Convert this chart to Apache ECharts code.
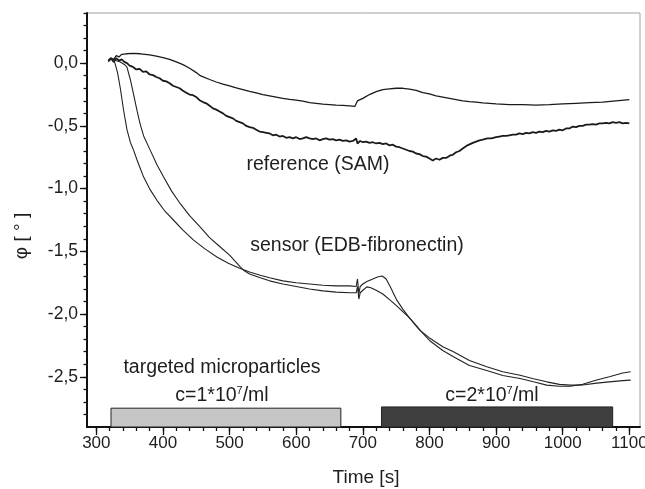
<!DOCTYPE html>
<html>
<head>
<meta charset="utf-8">
<script src="https://cdn.jsdelivr.net/npm/echarts@6/dist/echarts.min.js"></script>
<style>
html,body{margin:0;padding:0;background:#fff;}
#chart{width:645px;height:489px;}
</style>
</head>
<body>
<div id="chart"></div>
<script>
// ---- data (time [s], phase [deg]) ----
var refUpper = [[318,0.02],[322,0.04],[326,0.03],[330,0.06],[334,0.05],[338,0.07],[345,0.075],[355,0.078],[366,0.075],[380,0.066],[390,0.056],[400,0.045],[410,0.03],[420,0.01],[430,-0.012],[440,-0.04],[450,-0.075],[456,-0.1],[470,-0.13],[480,-0.15],[490,-0.167],[500,-0.18],[510,-0.196],[520,-0.21],[530,-0.224],[540,-0.236],[550,-0.25],[560,-0.26],[570,-0.27],[580,-0.28],[590,-0.288],[600,-0.295],[610,-0.302],[620,-0.314],[630,-0.32],[640,-0.326],[650,-0.33],[660,-0.334],[670,-0.336],[680,-0.34],[688,-0.345],[690,-0.33],[692,-0.3],[694,-0.31],[696,-0.29],[700,-0.28],[710,-0.25],[720,-0.226],[730,-0.21],[740,-0.204],[750,-0.2],[760,-0.2],[770,-0.206],[780,-0.216],[790,-0.234],[800,-0.245],[810,-0.26],[820,-0.27],[830,-0.28],[840,-0.29],[850,-0.3],[860,-0.306],[870,-0.31],[880,-0.316],[890,-0.32],[900,-0.325],[920,-0.33],[940,-0.331],[960,-0.334],[980,-0.33],[1000,-0.325],[1020,-0.32],[1040,-0.315],[1060,-0.31],[1080,-0.3],[1100,-0.29]];

var refLower = [[318,0.02],[322,0.04],[326,0.01],[330,0.04],[334,0.02],[338,0.03],[342,0.01],[346,0.0],[350,-0.02],[355,-0.03],[360,-0.05],[365,-0.045],[370,-0.07],[375,-0.065],[380,-0.09],[385,-0.095],[390,-0.11],[395,-0.12],[400,-0.14],[405,-0.145],[410,-0.16],[415,-0.18],[420,-0.19],[425,-0.2],[430,-0.22],[435,-0.235],[440,-0.25],[445,-0.255],[450,-0.27],[455,-0.295],[460,-0.31],[465,-0.32],[470,-0.34],[475,-0.36],[480,-0.37],[485,-0.385],[490,-0.4],[495,-0.42],[500,-0.43],[505,-0.44],[510,-0.46],[515,-0.47],[520,-0.48],[525,-0.5],[530,-0.51],[535,-0.515],[540,-0.53],[545,-0.545],[550,-0.55],[555,-0.555],[560,-0.56],[565,-0.575],[570,-0.57],[575,-0.585],[580,-0.58],[585,-0.595],[590,-0.59],[595,-0.6],[600,-0.59],[605,-0.605],[610,-0.6],[615,-0.59],[620,-0.6],[625,-0.605],[630,-0.6],[635,-0.615],[640,-0.605],[645,-0.6],[650,-0.61],[655,-0.605],[660,-0.615],[665,-0.61],[670,-0.62],[675,-0.615],[680,-0.625],[685,-0.62],[688,-0.63],[690,-0.6],[692,-0.64],[696,-0.62],[700,-0.63],[705,-0.625],[710,-0.635],[715,-0.63],[720,-0.64],[725,-0.635],[730,-0.645],[735,-0.64],[740,-0.655],[745,-0.65],[750,-0.665],[755,-0.67],[760,-0.68],[765,-0.69],[770,-0.7],[775,-0.705],[780,-0.72],[785,-0.725],[790,-0.74],[795,-0.745],[800,-0.76],[805,-0.775],[810,-0.76],[815,-0.77],[820,-0.755],[825,-0.755],[831,-0.735],[835,-0.73],[840,-0.71],[845,-0.7],[850,-0.68],[857,-0.655],[865,-0.635],[870,-0.625],[875,-0.615],[880,-0.61],[887,-0.6],[893,-0.6],[900,-0.59],[905,-0.585],[910,-0.58],[915,-0.58],[920,-0.575],[925,-0.57],[930,-0.57],[935,-0.56],[940,-0.565],[945,-0.555],[950,-0.56],[955,-0.55],[960,-0.555],[965,-0.545],[970,-0.55],[975,-0.54],[980,-0.545],[985,-0.535],[990,-0.54],[995,-0.53],[1000,-0.535],[1005,-0.52],[1010,-0.52],[1015,-0.505],[1020,-0.51],[1025,-0.5],[1030,-0.5],[1035,-0.49],[1040,-0.49],[1045,-0.485],[1050,-0.49],[1055,-0.48],[1060,-0.48],[1065,-0.475],[1070,-0.48],[1075,-0.47],[1080,-0.475],[1085,-0.47],[1090,-0.48],[1095,-0.475],[1100,-0.48]];

var sensorA = [[318,0.02],[322,0.04],[326,0.02],[328,0.0],[332,-0.08],[336,-0.2],[341,-0.377],[346,-0.53],[351,-0.63],[356,-0.695],[361,-0.77],[366,-0.84],[371,-0.908],[381,-1.01],[391,-1.093],[403,-1.18],[416,-1.252],[430,-1.33],[446,-1.41],[463,-1.48],[481,-1.545],[498,-1.595],[516,-1.637],[530,-1.665],[546,-1.69],[560,-1.71],[580,-1.735],[600,-1.75],[620,-1.76],[640,-1.77],[660,-1.775],[680,-1.775],[690,-1.78],[692,-1.72],[694,-1.84],[696,-1.78],[700,-1.76],[706,-1.74],[715,-1.72],[722,-1.705],[729,-1.696],[735,-1.72],[741,-1.78],[751,-1.889],[760,-1.96],[770,-2.03],[780,-2.095],[786,-2.13],[800,-2.21],[820,-2.29],[836,-2.34],[860,-2.41],[886,-2.45],[910,-2.49],[936,-2.513],[956,-2.54],[976,-2.566],[995,-2.575],[1011,-2.575],[1030,-2.56],[1051,-2.526],[1070,-2.5],[1090,-2.47],[1102,-2.46]];

var sensorB = [[318,0.01],[322,0.03],[326,0.03],[330,0.02],[336,0.01],[342,-0.01],[346,-0.032],[351,-0.13],[356,-0.25],[361,-0.377],[366,-0.49],[371,-0.58],[381,-0.695],[391,-0.81],[401,-0.908],[413,-1.02],[426,-1.12],[440,-1.215],[456,-1.306],[470,-1.39],[486,-1.465],[500,-1.53],[516,-1.624],[521,-1.65],[530,-1.68],[546,-1.71],[560,-1.735],[580,-1.76],[600,-1.78],[620,-1.8],[640,-1.815],[660,-1.825],[680,-1.83],[690,-1.83],[692,-1.78],[694,-1.88],[696,-1.83],[700,-1.81],[706,-1.783],[712,-1.79],[720,-1.81],[730,-1.84],[741,-1.889],[750,-1.93],[760,-1.98],[770,-2.03],[780,-2.09],[786,-2.13],[800,-2.19],[820,-2.26],[836,-2.3],[860,-2.37],[886,-2.42],[910,-2.46],[936,-2.487],[956,-2.515],[976,-2.54],[995,-2.56],[1011,-2.566],[1030,-2.565],[1051,-2.55],[1070,-2.54],[1090,-2.53],[1102,-2.526]];

// injection bars: [start, end, top]
var barStart = [322, 728];
var barEnd = [667, 1075];
var barTop = [-2.75, -2.74];
var barColors = ['#c6c6c6', '#3f3f3f'];

// axis ticks
var xMajorTicks = [300,400,500,600,700,800,900,1000,1100];
var xMinorTicks = [300,320,340,360,380,400,420,440,460,480,500,520,540,560,580,600,620,640,660,680,700,720,740,760,780,800,820,840,860,880,900,920,940,960,980,1000,1020,1040,1060,1080,1100];
var yMajorTicks = [-2.5,-2.0,-1.5,-1.0,-0.5,0.0];
var yMinorTicks = [-2.8,-2.7,-2.6,-2.5,-2.4,-2.3,-2.2,-2.1,-2.0,-1.9,-1.8,-1.7,-1.6,-1.5,-1.4,-1.3,-1.2,-1.1,-1.0,-0.9,-0.8,-0.7,-0.6,-0.5,-0.4,-0.3,-0.2,-0.1,0.0,0.1,0.2,0.3,0.4];

var X_MIN = 286, X_MAX = 1116, Y_MIN = -2.9, Y_MAX = 0.4;

var FONT = '"Liberation Sans", Arial, sans-serif';
var TXT = '#1e1e1e';

var barData = barStart.map(function (s, i) { return [s, barEnd[i], barTop[i], i]; });

var chart = echarts.init(document.getElementById('chart'), null, {renderer: 'canvas'});

function baseX(show, ticks, len) {
  return {
    type: 'value', min: X_MIN, max: X_MAX, position: 'bottom',
    axisLine: {show: show, onZero: false, lineStyle: {color: '#111', width: 2}},
    axisTick: {show: true, customValues: ticks, length: len, inside: false, lineStyle: {color: '#111', width: 1.3}},
    axisLabel: {show: false},
    splitLine: {show: false}
  };
}
function baseY(show, ticks, len) {
  return {
    type: 'value', min: Y_MIN, max: Y_MAX, position: 'left',
    axisLine: {show: show, onZero: false, lineStyle: {color: '#111', width: 2}},
    axisTick: {show: true, customValues: ticks, length: len, inside: false, lineStyle: {color: '#111', width: 1.3}},
    axisLabel: {show: false},
    splitLine: {show: false}
  };
}

var xMain = baseX(true, xMajorTicks, 8);
xMain.axisLabel = {show: true, customValues: xMajorTicks, fontFamily: FONT, fontSize: 17, color: TXT, margin: 8,
  formatter: function (v) { return String(v); }};
var xMinor = baseX(false, xMinorTicks, 4);
var yMain = baseY(true, yMajorTicks, 7);
yMain.axisLabel = {show: true, customValues: yMajorTicks, fontFamily: FONT, fontSize: 17.5, color: TXT, margin: 9,
  formatter: function (v) { return v.toFixed(1).replace('.', ','); }};
var yMinor = baseY(false, yMinorTicks, 3.5);

function lineSeries(name, data, width, color) {
  return {
    name: name, type: 'line', data: data, xAxisIndex: 0, yAxisIndex: 0,
    showSymbol: false, symbol: 'none', smooth: false, animation: false,
    lineStyle: {color: color, width: width}, z: 5
  };
}

var supRich = {
  a: {fontSize: 19.5, fontFamily: FONT, color: TXT, lineHeight: 22},
  s: {fontSize: 11, fontFamily: FONT, color: TXT, verticalAlign: 'top', lineHeight: 22, padding: [0, 0, 12, 0]}
};

var option = {
  animation: false,
  backgroundColor: '#fff',
  grid: {left: 87, top: 13, right: 5, bottom: 62, show: true, borderColor: '#a0a0a0', borderWidth: 1, backgroundColor: 'transparent',
    containLabel: false, outerBoundsMode: 'none'},
  xAxis: [xMain, xMinor],
  yAxis: [yMain, yMinor],
  series: [
    {
      type: 'custom', xAxisIndex: 0, yAxisIndex: 0, data: barData, z: 3, animation: false,
      renderItem: function (params, api) {
        var p1 = api.coord([api.value(0), api.value(2)]);
        var p2 = api.coord([api.value(1), Y_MIN]);
        return {
          type: 'rect',
          shape: {x: p1[0], y: p1[1], width: p2[0] - p1[0], height: p2[1] - p1[1]},
          style: {fill: barColors[api.value(3)], stroke: '#222', lineWidth: 1}
        };
      }
    },
    lineSeries('refUpper', refUpper, 1.3, '#1a1a1a'),
    lineSeries('refLower', refLower, 1.8, '#1a1a1a'),
    lineSeries('sensorA', sensorA, 1.1, '#222'),
    lineSeries('sensorB', sensorB, 1.1, '#222')
  ],
  graphic: [
    {type: 'text', x: 318, y: 165, style: {text: 'reference (SAM)', font: '19.5px ' + FONT, fill: TXT, textAlign: 'center', textVerticalAlign: 'middle', align: 'center', verticalAlign: 'middle'}},
    {type: 'text', x: 357, y: 246, style: {text: 'sensor (EDB-fibronectin)', font: '19.5px ' + FONT, fill: TXT, textAlign: 'center', textVerticalAlign: 'middle', align: 'center', verticalAlign: 'middle'}},
    {type: 'text', x: 222, y: 368, style: {text: 'targeted microparticles', font: '19.5px ' + FONT, fill: TXT, textAlign: 'center', textVerticalAlign: 'middle', align: 'center', verticalAlign: 'middle'}},
    {type: 'text', x: 222, y: 396, style: {text: '{a|c=1*10}{s|7}{a|/ml}', rich: supRich, fill: TXT, textAlign: 'center', textVerticalAlign: 'middle', align: 'center', verticalAlign: 'middle'}},
    {type: 'text', x: 492, y: 396, style: {text: '{a|c=2*10}{s|7}{a|/ml}', rich: supRich, fill: TXT, textAlign: 'center', textVerticalAlign: 'middle', align: 'center', verticalAlign: 'middle'}},
    {type: 'text', x: 366, y: 478, style: {text: 'Time [s]', font: '19px ' + FONT, fill: TXT, textAlign: 'center', textVerticalAlign: 'middle', align: 'center', verticalAlign: 'middle'}},
    {type: 'text', x: 22, y: 236, rotation: Math.PI / 2, style: {text: 'φ [ ° ]', font: '19px ' + FONT, fill: TXT, textAlign: 'center', textVerticalAlign: 'middle', align: 'center', verticalAlign: 'middle'}}
  ]
};
chart.setOption(option);
</script>
</body>
</html>
